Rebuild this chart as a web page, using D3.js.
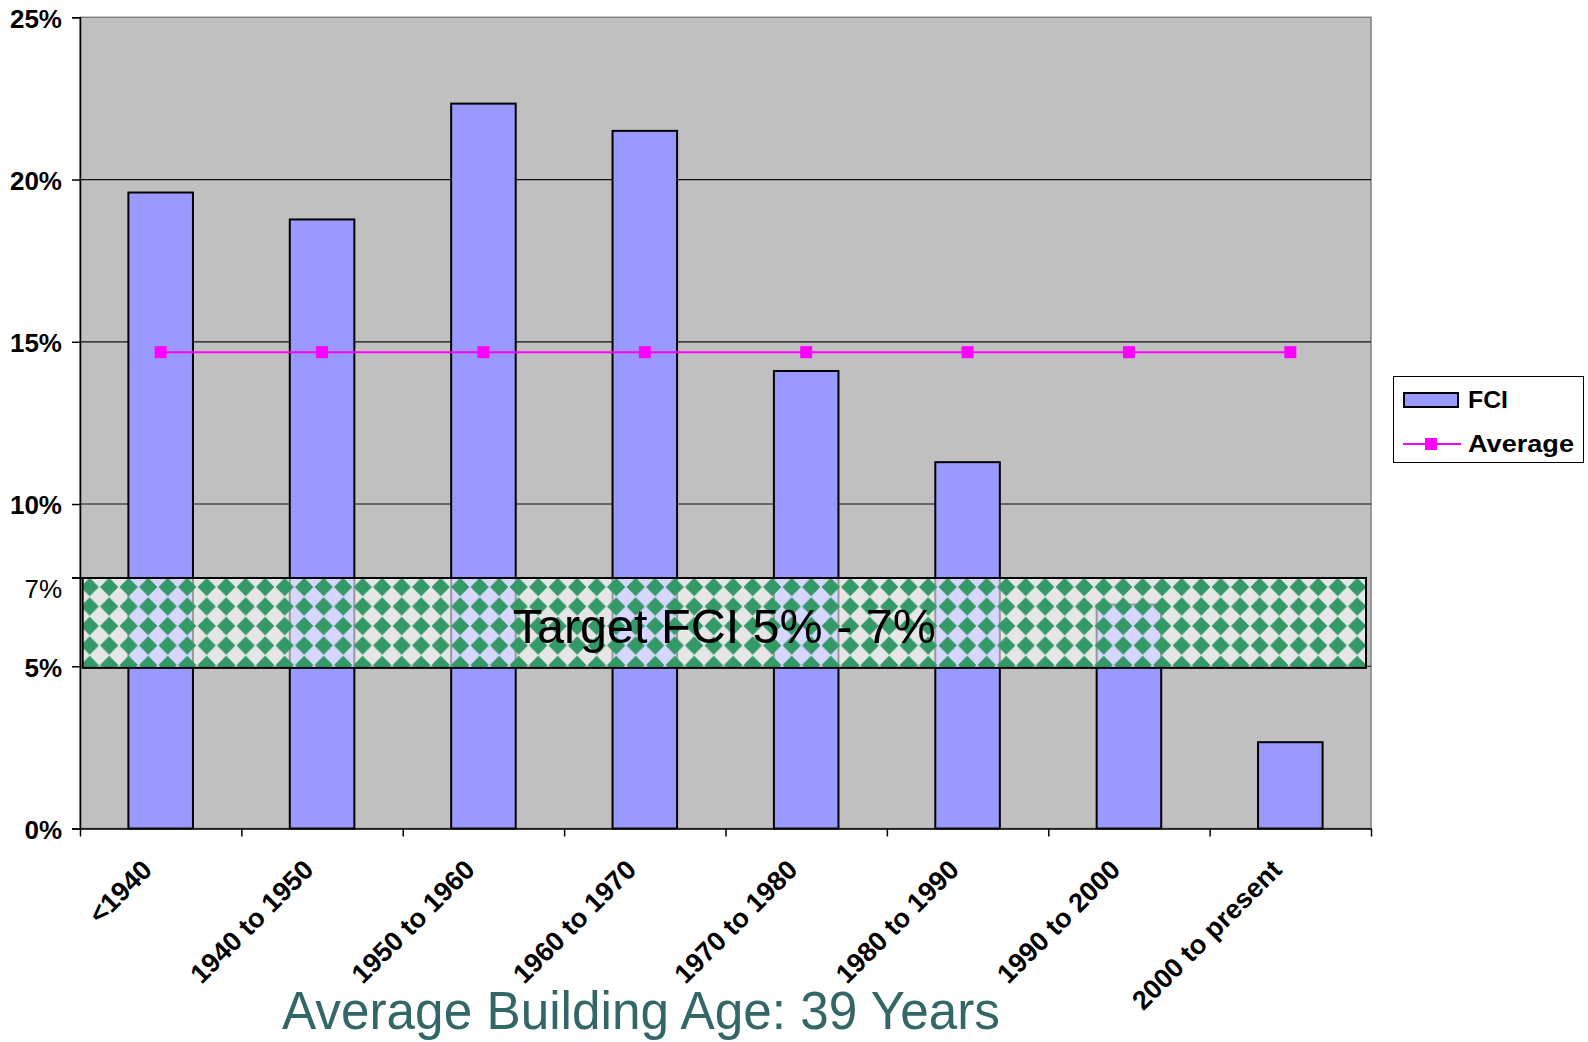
<!DOCTYPE html>
<html>
<head>
<meta charset="utf-8">
<script src="https://cdn.jsdelivr.net/npm/d3@7"></script>
<style>
  body { margin: 0; background: #fff; }
  svg { display: block; font-family: "Liberation Sans", Arial, sans-serif; }
</style>
</head>
<body>
<div id="chart"></div>
<script>
// data
const categories = ["<1940", "1940 to 1950", "1950 to 1960", "1960 to 1970",
  "1970 to 1980", "1980 to 1990", "1990 to 2000", "2000 to present"];
const fciValues = [19.6, 18.77, 22.34, 21.5, 14.1, 11.29, 6.9, 2.66];
const avgValues = [14.68, 14.68, 14.68, 14.68, 14.68, 14.68, 14.68, 14.68];
const yTicks = [0, 5, 10, 15, 20, 25];
const gridValues = [5, 10, 15, 20];
// the target overlay as drawn (a bit taller than 5-7%)
const targetBand = [4.95, 7.72];
const targetLabel = "Target FCI 5% - 7%";
const bandTickLabel = "7%";
const seriesNames = ["FCI", "Average"];
const subtitle = "Average Building Age: 39 Years";

const W = 1588, H = 1042;
const plot = { left: 80, top: 17.3, right: 1371, bottom: 828.5 };

const svg = d3.select("#chart").append("svg")
  .attr("width", W)
  .attr("height", H);

const x = d3.scaleBand()
  .domain(categories)
  .range([plot.left, plot.right])
  .paddingInner(0.6)
  .paddingOuter(0.3);

// boundaries between categories, for the tick marks
const xEdges = d3.scaleLinear()
  .domain([0, categories.length])
  .range([plot.left, plot.right]);

const y = d3.scaleLinear()
  .domain([0, 25])
  .range([plot.bottom, plot.top]);

// plot background
svg.append("rect")
  .attr("x", plot.left)
  .attr("y", plot.top)
  .attr("width", plot.right - plot.left)
  .attr("height", plot.bottom - plot.top)
  .attr("fill", "#c0c0c0")
  .attr("stroke", "#808080")
  .attr("stroke-width", 1.5);

// gridlines
svg.append("g")
  .selectAll("line")
  .data(gridValues)
  .join("line")
  .attr("x1", plot.left)
  .attr("x2", plot.right)
  .attr("y1", d => y(d))
  .attr("y2", d => y(d))
  .attr("stroke", "#111")
  .attr("stroke-width", 1.2);

// bars
svg.append("g")
  .selectAll("rect")
  .data(fciValues)
  .join("rect")
  .attr("x", (d, i) => x(categories[i]))
  .attr("y", d => y(d))
  .attr("width", x.bandwidth())
  .attr("height", d => y(0) - y(d))
  .attr("fill", "#9999ff")
  .attr("stroke", "#000")
  .attr("stroke-width", 2);

// average line
const avgLine = d3.line()
  .x((d, i) => x(categories[i]) + x.bandwidth() / 2)
  .y(d => y(d));

svg.append("path")
  .datum(avgValues)
  .attr("d", avgLine)
  .attr("fill", "none")
  .attr("stroke", "#ff00ff")
  .attr("stroke-width", 2);

svg.append("g")
  .selectAll("rect")
  .data(avgValues)
  .join("rect")
  .attr("x", (d, i) => x(categories[i]) + x.bandwidth() / 2 - 6)
  .attr("y", d => y(d) - 6)
  .attr("width", 12)
  .attr("height", 12)
  .attr("fill", "#ff00ff");

// axes
const yAxis = svg.append("g")
  .attr("transform", `translate(${plot.left},0)`)
  .call(d3.axisLeft(y).tickValues(yTicks).tickFormat(d => d + "%").tickSize(8).tickPadding(10));
yAxis.select(".domain").attr("stroke", "#000").attr("stroke-width", 1.5);
yAxis.selectAll(".tick line").attr("stroke", "#000").attr("stroke-width", 1.5);
yAxis.selectAll(".tick text")
  .attr("font-size", 26)
  .attr("font-weight", "bold")
  .attr("fill", "#000")
  .attr("font-family", "'Liberation Sans', Arial, sans-serif")
  .attr("dy", "0.38em");

const xAxis = svg.append("g")
  .attr("transform", `translate(0,${plot.bottom})`)
  .call(d3.axisBottom(xEdges).tickValues(d3.range(categories.length + 1)).tickFormat("").tickSize(8).tickSizeOuter(0));
xAxis.select(".domain").attr("stroke", "#000").attr("stroke-width", 1.5);
xAxis.selectAll(".tick line").attr("stroke", "#000").attr("stroke-width", 1.5);

svg.append("g")
  .selectAll("text")
  .data(categories)
  .join("text")
  .attr("transform", d => `translate(${x(d) + x.bandwidth() / 2 - 7},${plot.bottom + 43}) rotate(-45)`)
  .attr("text-anchor", "end")
  .attr("font-size", 27)
  .attr("font-weight", "bold")
  .attr("fill", "#000")
  .text(d => d);

// target band with diamond pattern
const defs = svg.append("defs");
const tile = 19.5;
const bandX0 = plot.left + 2.7, bandX1 = plot.right - 5;
const pat = defs.append("pattern")
  .attr("id", "diamonds")
  .attr("patternUnits", "userSpaceOnUse")
  .attr("x", bandX0 + 7)
  .attr("y", y(targetBand[1]) + 9)
  .attr("width", tile)
  .attr("height", tile);
pat.append("rect")
  .attr("width", tile)
  .attr("height", tile)
  .attr("fill", "#fff")
  .attr("fill-opacity", 0.6);
const h = tile / 2 - 0.6;
[[0, 0], [tile, 0], [0, tile], [tile, tile]].forEach(([cx, cy]) => {
  pat.append("path")
    .attr("d", `M${cx},${cy - h}L${cx + h},${cy}L${cx},${cy + h}L${cx - h},${cy}Z`)
    .attr("fill", "#339966");
});

svg.append("rect")
  .attr("x", bandX0)
  .attr("y", y(targetBand[1]))
  .attr("width", bandX1 - bandX0)
  .attr("height", y(targetBand[0]) - y(targetBand[1]))
  .attr("fill", "url(#diamonds)")
  .attr("stroke", "#000")
  .attr("stroke-width", 2);

svg.append("line")
  .attr("x1", plot.left - 8)
  .attr("x2", bandX0)
  .attr("y1", y(targetBand[1]))
  .attr("y2", y(targetBand[1]))
  .attr("stroke", "#000")
  .attr("stroke-width", 2);

svg.append("text")
  .attr("x", plot.left - 18)
  .attr("y", y(targetBand[1]) + 20)
  .attr("text-anchor", "end")
  .attr("font-size", 26)
  .attr("fill", "#000")
  .text(bandTickLabel);

svg.append("text")
  .attr("x", (bandX0 + bandX1) / 2)
  .attr("y", y(targetBand[0]) - 25)
  .attr("text-anchor", "middle")
  .attr("font-size", 48.5)
  .attr("fill", "#000")
  .text(targetLabel);

// legend
const legend = svg.append("g");
legend.append("rect")
  .attr("x", 1393.5)
  .attr("y", 376.5)
  .attr("width", 190)
  .attr("height", 86)
  .attr("fill", "#fff")
  .attr("stroke", "#000")
  .attr("stroke-width", 1);
legend.append("rect")
  .attr("x", 1404)
  .attr("y", 393)
  .attr("width", 54)
  .attr("height", 14)
  .attr("fill", "#9999ff")
  .attr("stroke", "#000")
  .attr("stroke-width", 2);
legend.append("line")
  .attr("x1", 1403)
  .attr("x2", 1461)
  .attr("y1", 444)
  .attr("y2", 444)
  .attr("stroke", "#ff00ff")
  .attr("stroke-width", 2);
legend.append("rect")
  .attr("x", 1425)
  .attr("y", 438)
  .attr("width", 12)
  .attr("height", 12)
  .attr("fill", "#ff00ff");
legend.selectAll("text")
  .data(seriesNames)
  .join("text")
  .attr("x", 1468)
  .attr("y", (d, i) => 408 + i * 44)
  .attr("font-size", 24)
  .attr("font-weight", "bold")
  .attr("fill", "#000")
  .attr("textLength", (d, i) => i === 0 ? 40 : 106)
  .attr("lengthAdjust", "spacingAndGlyphs")
  .text(d => d);

// subtitle under the chart
svg.append("text")
  .attr("x", 641)
  .attr("y", 1029)
  .attr("text-anchor", "middle")
  .attr("font-size", 53)
  .attr("fill", "#336666")
  .attr("textLength", 718)
  .attr("lengthAdjust", "spacingAndGlyphs")
  .text(subtitle);
</script>
</body>
</html>
